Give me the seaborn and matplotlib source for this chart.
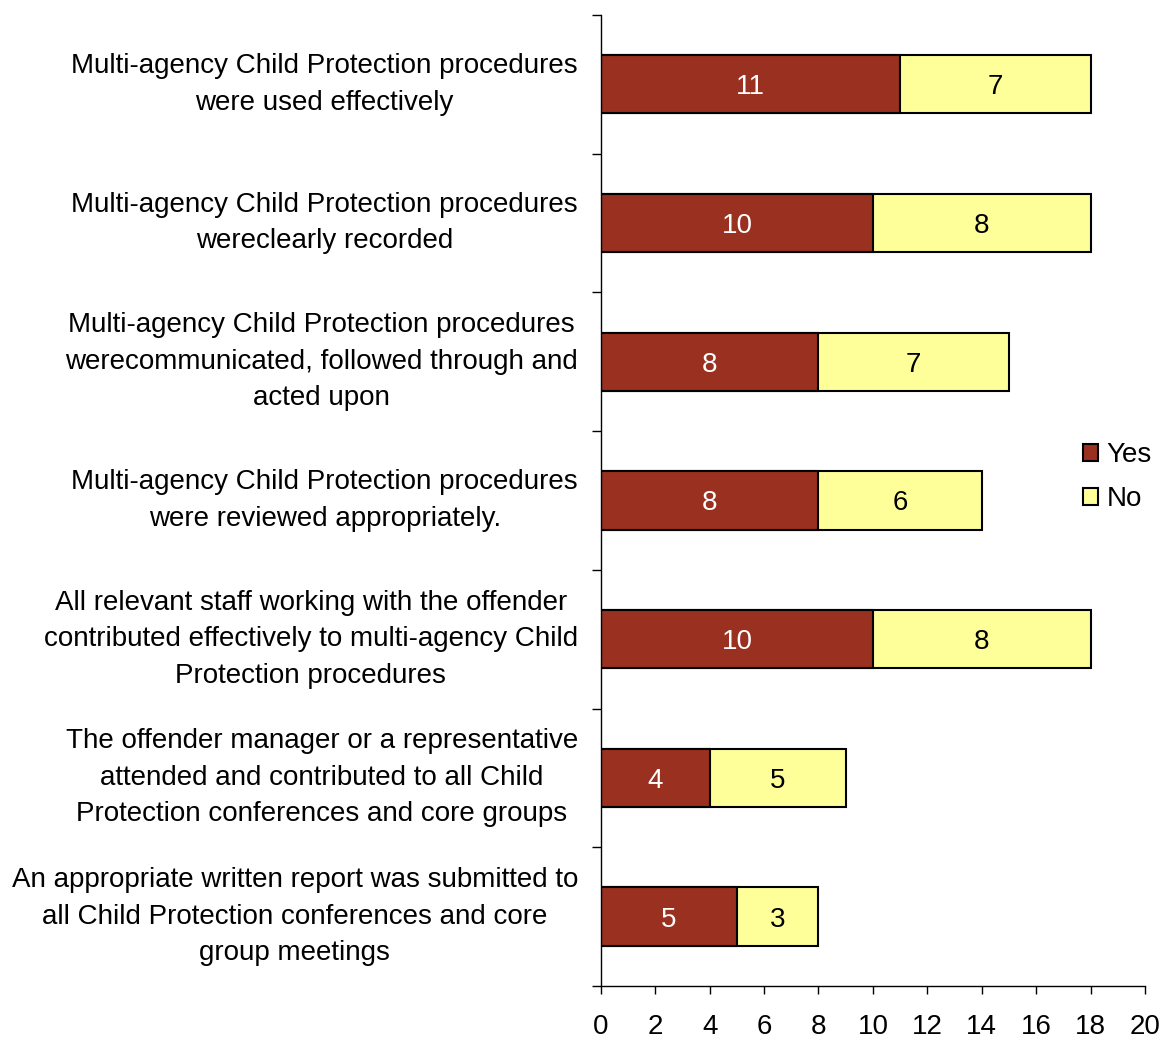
import matplotlib
matplotlib.use("Agg")
import matplotlib.pyplot as plt
import seaborn as sns
import pandas as pd
import numpy as np
from matplotlib.patches import Patch

sns.set_theme(style="white")
plt.rcParams['font.family'] = ['Liberation Sans', 'DejaVu Sans']
plt.rcParams['text.color'] = 'black'
plt.rcParams['xtick.color'] = 'black'
plt.rcParams['ytick.color'] = 'black'

categories = [
    "Multi-agency Child Protection procedures\nwere used effectively",
    "Multi-agency Child Protection procedures\nwereclearly recorded",
    "Multi-agency Child Protection procedures\nwerecommunicated, followed through and\nacted upon",
    "Multi-agency Child Protection procedures\nwere reviewed appropriately.",
    "All relevant staff working with the offender\ncontributed effectively to multi-agency Child\nProtection procedures",
    "The offender manager or a representative\nattended and contributed to all Child\nProtection conferences and core groups",
    "An appropriate written report was submitted to\nall Child Protection conferences and core\ngroup meetings",
]
yes_values = [11, 10, 8, 8, 10, 4, 5]
no_values = [7, 8, 7, 6, 8, 5, 3]

yes_color = "#993020"
no_color = "#FFFF99"
fs = 20

df = pd.DataFrame({"item": categories, "Yes": yes_values, "No": no_values})
df["Total"] = df["Yes"] + df["No"]

fig = plt.figure(figsize=(11.6, 10.4), dpi=100)
ax = fig.add_axes([0.518, 0.052, 0.469, 0.9336])

bar_w = 0.42
sns.barplot(data=df, y="item", x="Total", order=categories, color=no_color,
            edgecolor="black", linewidth=1.5, width=bar_w, saturation=1, ax=ax)
sns.barplot(data=df, y="item", x="Yes", order=categories, color=yes_color,
            edgecolor="black", linewidth=1.5, width=bar_w, saturation=1, ax=ax)

# segment value labels
for i, (y, n) in enumerate(zip(yes_values, no_values)):
    ax.text(y / 2, i, str(y), ha="center", va="center_baseline", color="white", fontsize=fs)
    ax.text(y + n / 2, i, str(n), ha="center", va="center_baseline", color="black", fontsize=fs)

ax.set_xlim(0, 20)
ax.set_ylim(len(categories) - 0.5, -0.5)
ax.set_xticks(np.arange(0, 21, 2))
ax.tick_params(axis="x", labelsize=fs, length=6, width=1, color="black",
               direction="out", bottom=True, pad=14)
ax.set_xlabel("")
ax.set_ylabel("")

ax.set_yticks(range(len(categories)))
ax.set_yticklabels(categories, multialignment="center", fontsize=fs,
                   ha="right", va="center", linespacing=1.53)
ax.tick_params(axis="y", which="major", length=0, pad=16.5)
ax.set_yticks(np.arange(-0.5, len(categories), 1), minor=True)
ax.tick_params(axis="y", which="minor", length=6.5, width=1, color="black",
               direction="out", left=True)

for side in ["top", "right"]:
    ax.spines[side].set_visible(False)
for side in ["left", "bottom"]:
    ax.spines[side].set_color("black")
    ax.spines[side].set_linewidth(1)

handles = [Patch(facecolor=yes_color, edgecolor="black", linewidth=1.5, label="Yes"),
           Patch(facecolor=no_color, edgecolor="black", linewidth=1.5, label="No")]
fig.legend(handles=handles, loc="center left", bbox_to_anchor=(0.924, 0.541),
           frameon=False, fontsize=fs, handlelength=0.55, handleheight=0.55,
           handletextpad=0.3, labelspacing=0.65, borderaxespad=0)

fig.savefig("out.png", dpi=100)
